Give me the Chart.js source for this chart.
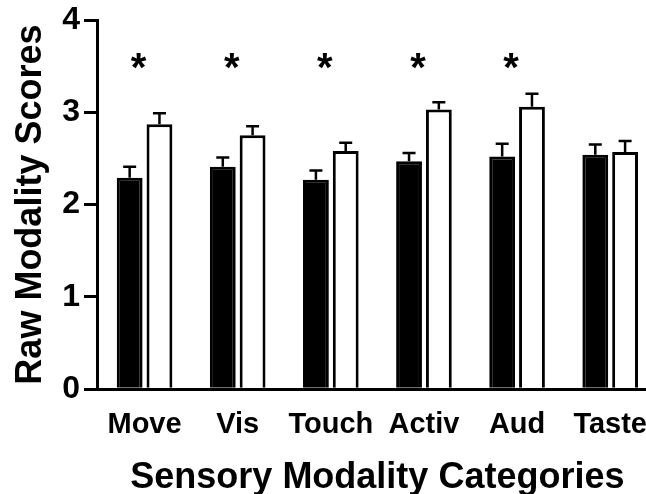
<!DOCTYPE html>
<html>
<head>
<meta charset="utf-8">
<script src="https://cdn.jsdelivr.net/npm/chart.js@4.4.1/dist/chart.umd.min.js"></script>
<style>
  html, body { margin: 0; padding: 0; background: #fff; overflow: hidden; }
  body { width: 646px; height: 494px; }
  #wrap { width: 668px; height: 494px; }
</style>
</head>
<body>
<div id="wrap"><canvas id="chart"></canvas></div>
<script>
// --- data ---
const categories = ['Move', 'Vis', 'Touch', 'Activ', 'Aud', 'Taste'];
const blackMeans = [2.29, 2.41, 2.27, 2.47, 2.52, 2.54];
const blackErr   = [0.12, 0.10, 0.10, 0.09, 0.14, 0.11];
const whiteMeans = [2.87, 2.75, 2.58, 3.03, 3.06, 2.57];
const whiteErr   = [0.12, 0.10, 0.09, 0.08, 0.14, 0.12];
const significant = [true, true, true, true, true, false];
const yMin = 0, yMax = 4, yStep = 1;
const starLevel = 3.5;

const FONT = '"Liberation Sans", Arial, Helvetica, sans-serif';

// upward-only error bars with a cap
const errorBars = {
  id: 'errorBars',
  afterDatasetsDraw(chart) {
    const ctx = chart.ctx;
    const y = chart.scales.y;
    const errs = [blackErr, whiteErr];
    ctx.save();
    ctx.strokeStyle = '#000';
    ctx.lineWidth = 2.5;
    chart.data.datasets.forEach((ds, di) => {
      chart.getDatasetMeta(di).data.forEach((bar, i) => {
        const top = y.getPixelForValue(ds.data[i] + errs[di][i]);
        ctx.beginPath();
        ctx.moveTo(bar.x, bar.y);
        ctx.lineTo(bar.x, top);
        ctx.moveTo(bar.x - 6.5, top);
        ctx.lineTo(bar.x + 6.5, top);
        ctx.stroke();
      });
    });
    ctx.restore();
  }
};

// significance stars above groups
const stars = {
  id: 'stars',
  afterDatasetsDraw(chart) {
    const ctx = chart.ctx;
    const x = chart.scales.x, y = chart.scales.y;
    ctx.save();
    ctx.fillStyle = '#000';
    ctx.font = 'bold 40px ' + FONT;
    ctx.textAlign = 'center';
    ctx.textBaseline = 'middle';
    significant.forEach((s, i) => {
      if (!s) return;
      ctx.fillText('*', x.getPixelForValue(i) - 6, y.getPixelForValue(starLevel) + 4);
    });
    ctx.restore();
  }
};

new Chart(document.getElementById('chart'), {
  type: 'bar',
  data: {
    labels: categories,
    datasets: [
      {
        label: 'Group 1',
        data: blackMeans,
        backgroundColor: '#000',
        borderColor: '#000',
        borderWidth: 3
      },
      {
        label: 'Group 2',
        data: whiteMeans,
        backgroundColor: '#fff',
        borderColor: '#000',
        borderWidth: 3
      }
    ]
  },
  options: {
    responsive: true,
    maintainAspectRatio: false,
    animation: false,
    barPercentage: 0.867,
    categoryPercentage: 0.64,
    layout: { padding: { top: 0, left: 9, right: 0, bottom: 0 } },
    plugins: {
      legend: { display: false },
      tooltip: { enabled: false }
    },
    scales: {
      x: {
        grid: { display: false, drawTicks: false },
        border: { display: true, color: '#000', width: 3 },
        ticks: {
          color: '#000',
          padding: 21,
          font: { family: FONT, size: 29, weight: 'bold', lineHeight: 1.05 }
        },
        title: {
          display: true,
          text: 'Sensory Modality Categories',
          color: '#000',
          padding: { top: 0, bottom: 0 },
          font: { family: FONT, size: 36, weight: 'bold', lineHeight: 0.9 }
        }
      },
      y: {
        min: yMin,
        max: yMax,
        grid: {
          drawOnChartArea: false,
          drawTicks: true,
          tickLength: 14,
          color: '#000',
          lineWidth: 3
        },
        border: { display: true, color: '#000', width: 3 },
        ticks: {
          stepSize: yStep,
          color: '#000',
          padding: 4,
          font: { family: FONT, size: 32, weight: 'bold', lineHeight: 1 }
        },
        title: {
          display: true,
          text: 'Raw Modality Scores',
          color: '#000',
          padding: { top: 0, bottom: 6 },
          font: { family: FONT, size: 36, weight: 'bold' }
        }
      }
    }
  },
  plugins: [errorBars, stars]
});
</script>
</body>
</html>
